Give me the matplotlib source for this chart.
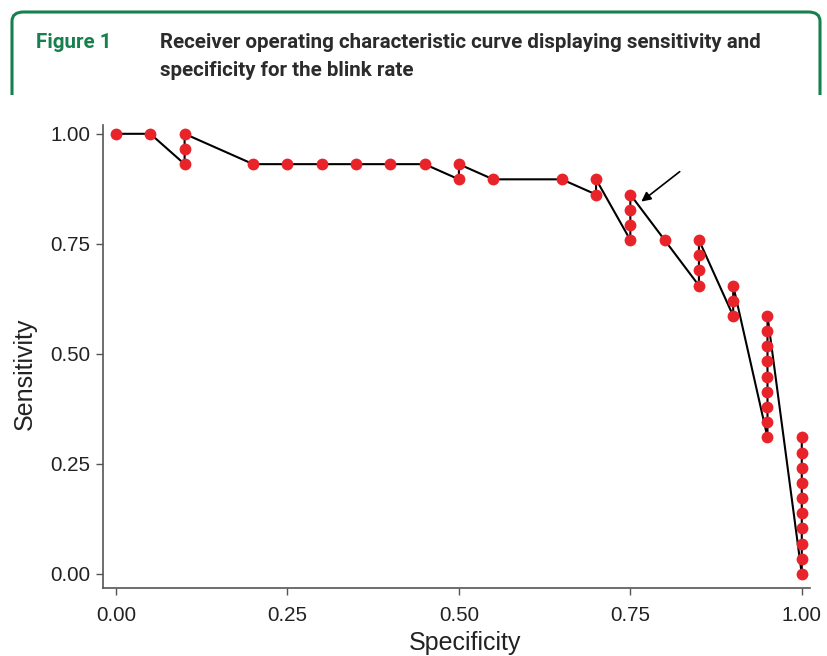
import matplotlib
matplotlib.use("Agg")
import matplotlib.pyplot as plt
from matplotlib.patches import FancyBboxPatch, Rectangle

# Data (ROC path in drawing order)
specificity = [0.00, 0.05, 0.10, 0.10, 0.10, 0.20, 0.25, 0.30, 0.35, 0.40, 0.45,
               0.50, 0.50, 0.55, 0.65, 0.70, 0.70,
               0.75, 0.75, 0.75, 0.75, 0.80,
               0.85, 0.85, 0.85, 0.85,
               0.90, 0.90, 0.90,
               0.95, 0.95, 0.95, 0.95, 0.95, 0.95, 0.95, 0.95, 0.95,
               1.00, 1.00, 1.00, 1.00, 1.00, 1.00, 1.00, 1.00, 1.00, 1.00]
sens_count = [29, 29, 27, 28, 29, 27, 27, 27, 27, 27, 27,
              26, 27, 26, 26, 25, 26,
              22, 23, 24, 25, 22,
              19, 20, 21, 22,
              17, 18, 19,
              9, 10, 11, 12, 13, 14, 15, 16, 17,
              0, 1, 2, 3, 4, 5, 6, 7, 8, 9]
n_pos = 29
sensitivity = [c / n_pos for c in sens_count]

xticks = [0.00, 0.25, 0.50, 0.75, 1.00]
yticks = [0.00, 0.25, 0.50, 0.75, 1.00]
tick_labels = ["0.00", "0.25", "0.50", "0.75", "1.00"]

arrow_tail = (0.822, 0.914)
arrow_head = (0.766, 0.846)

W, H = 828, 656
fig = plt.figure(figsize=(W / 100, H / 100), dpi=100)
fig.patch.set_facecolor("white")

green = "#16804f"
# Header box (rounded, open at bottom)
box = FancyBboxPatch((12 / W, 1 - 140 / H), (820 - 12) / W, (140 - 12) / H,
                     boxstyle="round,pad=0,rounding_size=0.014",
                     transform=fig.transFigure, fill=False,
                     edgecolor=green, linewidth=2.2)
fig.patches.append(box)
clip = Rectangle((0, 1 - 95 / H), 1, 95 / H, transform=fig.transFigure)
box.set_clip_path(clip)

title_kw = dict(fontsize=14.8, fontweight="bold", family="Roboto",
                va="center", ha="left")
fig.text(36 / W, 1 - 43 / H, "Figure 1", color=green, **title_kw)
fig.text(160 / W, 1 - 43 / H,
         "Receiver operating characteristic curve displaying sensitivity and",
         color="#2b2b2b", **title_kw)
fig.text(160 / W, 1 - 70 / H, "specificity for the blink rate",
         color="#2b2b2b", **title_kw)

ax = fig.add_axes([103 / W, 1 - 588 / H, (810 - 103) / W, (588 - 125) / H])
ax.plot(specificity, sensitivity, color="black", linewidth=1.5, zorder=2)
ax.plot(specificity, sensitivity, linestyle="none", marker="o", markersize=8.5,
        color="#e8232a", markeredgewidth=0, zorder=3)

ax.set_xlim(-0.019, 1.012)
ax.set_ylim(-0.032, 1.02)
ax.set_xticks(xticks)
ax.set_xticklabels(tick_labels)
ax.set_yticks(yticks)
ax.set_yticklabels(tick_labels)
for lab in ax.get_xticklabels() + ax.get_yticklabels():
    lab.set_family("Liberation Sans")
    lab.set_fontsize(14.8)
    lab.set_color("#222222")
ax.tick_params(axis="both", direction="out", length=5, width=1, color="#555555")
ax.tick_params(axis="x", pad=8)
ax.tick_params(axis="y", pad=4)
ax.spines["top"].set_visible(False)
ax.spines["right"].set_visible(False)
for s in ["left", "bottom"]:
    ax.spines[s].set_color("#555555")
    ax.spines[s].set_linewidth(1.2)

ax.set_xlabel("Specificity", fontsize=18, family="Liberation Sans",
              color="#222222", labelpad=4)
ax.set_ylabel("Sensitivity", fontsize=18, family="Liberation Sans",
              color="#222222", labelpad=10)
ax.xaxis.label.set_x(0.512)
ax.yaxis.label.set_y(0.462)

ax.annotate("", xy=arrow_head, xytext=arrow_tail,
            arrowprops=dict(arrowstyle="-|>", color="black", lw=1.2,
                            mutation_scale=14, shrinkA=0, shrinkB=0))

fig.savefig("out.png", dpi=100)
